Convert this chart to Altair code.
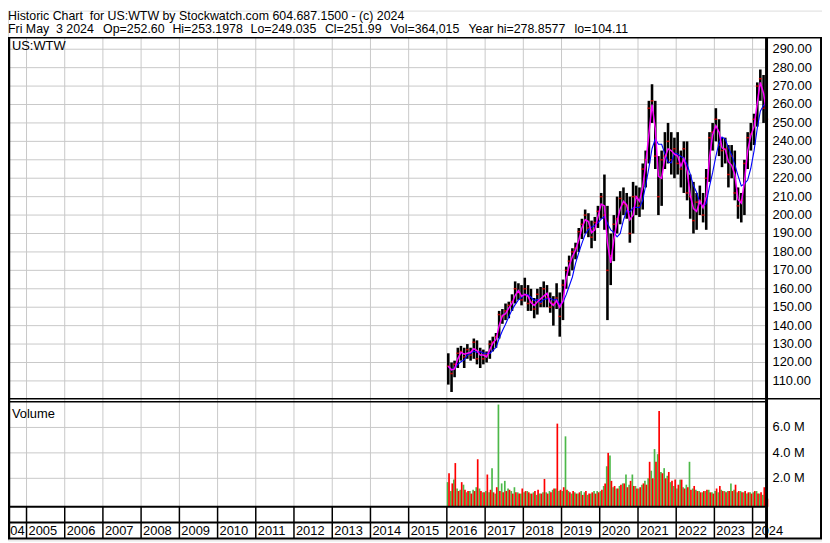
import altair as alt
import pandas as pd

# ---------------- data ----------------
MONTHS = pd.date_range("2016-01-01", "2024-05-01", freq="MS")

HIGH = [125,120,121,128,129,128,130,128,133,132,128,127,
        126,132,134,136,148,149,152,153,157,164,163,162,
        166,162,160,155,160,161,164,162,158,156,163,158,
        165,172,178,182,185,193,198,203,201,197,199,205,
        212,222,205,190,200,210,213,215,212,210,218,216,
        215,228,235,262,271,262,232,235,245,250,245,242,
        245,235,240,240,222,218,212,216,212,225,245,250,
        258,252,242,242,238,238,235,215,212,230,245,250,
        255,272,279,276,256]
LOW = [108,104,112,117,121,117,122,121,122,119,117,119,
       120,122,126,128,133,141,143,144,148,152,154,151,
       153,148,148,144,146,150,150,150,147,140,149,134,
       143,160,167,170,176,180,187,190,188,182,186,193,
       198,192,143,162,175,190,195,200,198,185,190,200,
       199,203,215,228,250,225,200,205,225,228,222,220,
       222,215,212,208,198,190,192,200,196,192,218,235,
       240,232,226,228,215,220,208,198,196,200,225,235,
       238,248,262,250,249]
CLOSE = [118,114,119,125,126,123,127,124,131,122,126,122,
         124,130,131,134,146,145,148,151,153,160,158,154,
         160,152,153,149,157,152,160,155,150,152,155,145,
         162,170,175,180,182,191,195,200,193,188,196,202,
         210,200,170,178,195,198,209,206,205,190,210,210,
         205,225,230,258,262,232,210,230,232,240,230,236,
         228,225,236,212,210,197,207,208,200,220,242,245,
         252,238,235,236,222,232,212,205,208,228,242,244,
         252,270,274,258,252]
# volume in millions: up-day (green) and down-day (red) bars per month
VOL_UP = [1.7,1.0,1.9,1.2,1.1,1.5,0.9,1.0,1.1,1.3,1.2,0.9,
          1.0,0.9,2.8,0.8,7.8,1.6,1.8,1.2,1.0,1.3,0.9,0.8,
          0.9,1.0,0.8,0.9,0.7,0.8,0.9,0.9,1.0,1.1,1.2,1.0,
          1.0,5.3,1.0,0.8,0.9,0.8,1.0,0.9,0.7,0.8,1.0,1.0,
          1.0,1.4,2.95,3.8,1.3,1.2,1.4,1.6,2.3,1.5,2.3,1.4,
          1.2,1.5,1.8,2.0,2.6,4.3,3.9,2.5,2.8,2.2,1.7,1.4,
          1.2,1.9,1.3,1.5,3.3,1.2,1.1,1.0,0.9,1.0,1.1,0.9,
          1.0,0.9,1.1,1.0,1.0,1.6,1.1,0.9,1.0,0.9,0.8,0.9,
          0.9,1.0,0.8,0.7,0.5]
VOL_DOWN = [2.4,1.6,3.2,1.0,1.7,1.1,1.0,0.8,1.0,3.5,1.0,0.9,
            2.3,1.1,0.9,1.3,1.0,0.9,1.0,1.1,0.8,0.9,0.8,1.2,
            1.0,0.9,0.8,1.0,1.1,0.8,1.95,0.8,0.9,1.2,6.3,1.1,
            1.3,1.1,0.9,1.0,0.8,0.9,0.7,1.0,0.8,0.9,0.8,0.9,
            1.1,1.6,4.0,1.8,1.4,1.2,1.5,1.6,1.3,1.8,1.4,1.2,
            1.3,1.6,1.5,3.3,2.0,3.3,7.3,2.4,2.0,2.5,1.8,1.9,
            1.5,1.9,1.2,1.3,1.1,1.4,1.0,0.9,1.0,1.1,0.9,0.8,
            1.2,1.4,1.0,0.9,1.0,1.0,1.5,1.0,0.9,1.0,0.9,0.8,
            1.0,0.8,0.9,1.3,0.4]
YEARS = list(range(2004, 2025))
PRICE_TICKS = list(range(110, 300, 10))
VOL_TICKS = [2, 4, 6]
HEADER_1 = "Historic Chart\u00a0\u00a0for US:WTW by Stockwatch.com 604.687.1500 - (c) 2024"
HEADER_2 = ["Fri May\u00a0\u00a03 2024", "Op=252.60", "Hi=253.1978", "Lo=249.035",
            "Cl=251.99", "Vol=364,015", "Year hi=278.8577", "lo=104.11"]
SYMBOL = "US:WTW"
VOL_TITLE = "Volume"

# ---------------- layout ----------------
W, H = 822, 535
PX1 = 765            # right edge of plot area
P_TOP, P_BOT = 27.5, 392
V_TOP, V_BOT = 395, 501
S_BOT = 517
BOTTOM = 533
FONT = "Liberation Sans"
GRID = "#c8c8c8"
HEADER_2_X = [0, 96, 166, 245, 320, 386, 465, 572]

price = pd.DataFrame({"date": MONTHS + pd.Timedelta(days=14),
                      "high": HIGH, "low": LOW, "close": CLOSE})
vol = pd.concat([
    pd.DataFrame({"date": MONTHS + pd.Timedelta(days=7), "vol": VOL_UP, "dir": "up"}),
    pd.DataFrame({"date": MONTHS + pd.Timedelta(days=21), "vol": VOL_DOWN, "dir": "down"}),
])
years = pd.DataFrame({"date": [pd.Timestamp(f"{y}-01-01") for y in YEARS],
                      "label": [str(y) for y in YEARS]})
pticks = pd.DataFrame({"v": PRICE_TICKS, "label": [f"{v:.2f}" for v in PRICE_TICKS]})
vticks = pd.DataFrame({"v": VOL_TICKS, "label": [f"{v:.1f} M" for v in VOL_TICKS]})
one = pd.DataFrame({"a": [0]})

xs = alt.Scale(domain=[alt.DateTime(year=2004, month=7, date=8),
                       alt.DateTime(year=2024, month=5, date=4)], range=[0, PX1])
X = alt.X("date:T", scale=xs, axis=None)
yp = alt.Scale(domain=[100.3, 296.45], range=[P_BOT, 27], zero=False, nice=False)
VFLOOR = -0.233
yv = alt.Scale(domain=[VFLOOR, 8.02], range=[V_BOT, V_TOP], zero=False, nice=False)


def hline(y, x1, x2, w=1, color="black"):
    return alt.Chart(one).mark_rule(color=color, strokeWidth=w).encode(
        x=alt.value(x1), x2=alt.value(x2), y=alt.value(y))


def vline(x, y1, y2, w=1, color="black"):
    return alt.Chart(one).mark_rule(color=color, strokeWidth=w).encode(
        x=alt.value(x), y=alt.value(y1), y2=alt.value(y2))


def label(text, x, y, size=13, align="left"):
    return alt.Chart(one).mark_text(text=text, align=align, baseline="alphabetic",
                                    font=FONT, fontSize=size, color="black").encode(
        x=alt.value(x), y=alt.value(y))


pgrid = alt.Chart(pticks).mark_rule(color=GRID, strokeWidth=1).encode(
    y=alt.Y("v:Q", scale=yp, axis=None), x=alt.value(0), x2=alt.value(PX1))
vgrid = alt.Chart(vticks).mark_rule(color=GRID, strokeWidth=1).encode(
    y=alt.Y("v:Q", scale=yv, axis=None), x=alt.value(0), x2=alt.value(PX1))
ygrid = alt.Chart(years).mark_rule(color=GRID, strokeWidth=1).encode(
    x=X, y=alt.value(P_TOP), y2=alt.value(V_BOT))
ysep = alt.Chart(years).mark_rule(color="black", strokeWidth=1.5).encode(
    x=X, y=alt.value(V_BOT), y2=alt.value(BOTTOM))
ylab = alt.Chart(years.iloc[1:]).mark_text(
    align="left", baseline="alphabetic", dx=2,
    font=FONT, fontSize=13, color="black").encode(
    x=X, y=alt.value(530), text="label:N")
# first (partly hidden) year label sits against the next year's line
ylab0 = alt.Chart(years.iloc[[1]].assign(label=str(YEARS[0]))).mark_text(
    align="right", baseline="alphabetic", dx=-2,
    font=FONT, fontSize=13, color="black").encode(
    x=X, y=alt.value(530), text="label:N")

bars = alt.Chart(price).mark_rule(color="black", strokeWidth=2.6).encode(
    x=X, y=alt.Y("low:Q", scale=yp, axis=None), y2="high:Q")
closes = alt.Chart(price).mark_tick(color="#ff0000", thickness=1.5, size=3,
                                    orient="horizontal").encode(
    x=X, y=alt.Y("close:Q", scale=yp, axis=None))
ma_fast = alt.Chart(price).transform_window(
    ma="mean(close)", frame=[-1, 0], sort=[{"field": "date"}]
).mark_line(color="#ff00ff", strokeWidth=1.5).encode(
    x=X, y=alt.Y("ma:Q", scale=yp, axis=None))
ma_slow = alt.Chart(price).transform_window(
    ma="mean(close)", frame=[-4, 0], sort=[{"field": "date"}]
).mark_line(color="#0000ff", strokeWidth=1.1).encode(
    x=X, y=alt.Y("ma:Q", scale=yp, axis=None))

vbars = alt.Chart(vol).mark_rule(strokeWidth=1.7).encode(
    x=X, y=alt.Y("vol:Q", scale=yv, axis=None), y2=alt.Y2(datum=VFLOOR),
    color=alt.Color("dir:N", scale=alt.Scale(domain=["up", "down"],
                                             range=["#4cb849", "#ff0000"]), legend=None))

plab = alt.Chart(pticks).mark_text(align="left", baseline="middle", font=FONT,
                                   fontSize=13, color="black").encode(
    x=alt.value(772), y=alt.Y("v:Q", scale=yp, axis=None), text="label:N")
vlab = alt.Chart(vticks).mark_text(align="left", baseline="middle", font=FONT,
                                   fontSize=13, color="black").encode(
    x=alt.value(772), y=alt.Y("v:Q", scale=yv, axis=None), text="label:N")

frame = [
    hline(P_TOP, 0, W, 1.5),
    hline(P_BOT, 0, W, 1.5),
    hline(V_TOP, 0, PX1, 1.5),
    hline(V_BOT, 0, PX1, 2),
    hline(S_BOT, 0, PX1, 2),
    hline(BOTTOM, 0, W, 2),
    vline(1, P_TOP, BOTTOM, 2.5),
    vline(PX1 + 1, P_TOP, BOTTOM, 3),
    vline(W - 1, P_TOP, BOTTOM, 2),
]

header = [label(HEADER_1, 0, 9.5, 12.5)] + [
    label(t, x, 23, 12.5) for t, x in zip(HEADER_2, HEADER_2_X)]

chart = alt.layer(
    pgrid, vgrid, ygrid, ysep,
    vbars, bars, closes, ma_slow, ma_fast,
    plab, vlab, ylab, ylab0,
    *header,
    label(SYMBOL, 4, 40), label(VOL_TITLE, 4, 411),
    *frame,
).resolve_scale(y="independent", color="independent").properties(
    width=W, height=H, autosize=alt.AutoSizeParams(type="none"), padding=0,
).configure_view(stroke=None).configure(background="white")

chart.save("out.html", embed_options={"renderer": "svg", "actions": False})
